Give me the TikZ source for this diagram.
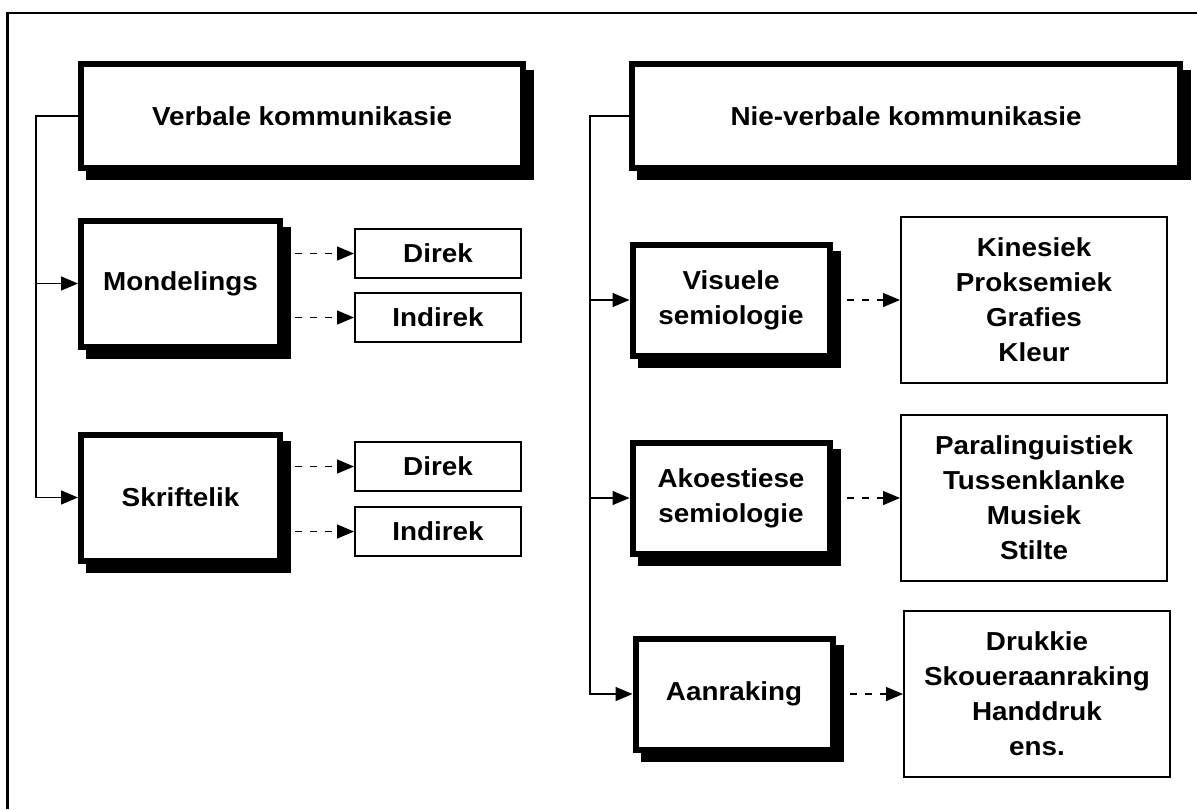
\documentclass[tikz,border=0pt]{standalone}
\usepackage{fontspec}
\setmainfont{Liberation Sans}[FakeStretch=1.07]
\usetikzlibrary{arrows.meta,shadows}
\tikzset{
	every node/.style = {font=\fontsize{13}{17.5}\selectfont\bfseries, inner sep=0, align=center},
	mainbox/.style = {draw, rectangle, line width=3pt, fill=white,
		drop shadow={shadow xshift=4pt, shadow yshift=-4.5pt, opacity=1, fill=black, draw=black, line width=3pt}},
	subbox/.style = {draw, rectangle, line width=0.8pt, fill=white, minimum width=83.2pt, minimum height=24.7pt},
	listbox/.style = {draw, rectangle, line width=1pt, fill=white, minimum width=133pt, minimum height=83pt},
	trunk/.style = {line width=0.7pt},
	dotarrow/.style = {->, line width=0.6pt, dash pattern=on 3.5pt off 4pt},
	>={Triangle[length=8.5pt,width=7pt]}
}

\begin{document}
\begin{tikzpicture}[x=0.5pt, y=-0.5pt]
		\useasboundingbox (0,0) rectangle (1197,809);
		\draw[line width=1.5pt] (7,809) -- (7,13);
		\draw[line width=1pt] (6,13) -- (1197,13);
		
		\node[mainbox, minimum width=221pt, minimum height=52pt] (verb) at (302,116) {Verbale kommunikasie};
		\node[mainbox, minimum width=99.5pt, minimum height=63pt] (mond) at (180.5,283.5) {Mondelings};
		\node[mainbox, minimum width=99.5pt, minimum height=63pt] (skrif) at (180.5,497.5) {Skriftelik};
		
		\node[subbox] (direk1) at (438,253.5) {Direk};
		\node[subbox] (indirek1) at (438,317.5) {Indirek};
		\node[subbox] (direk2) at (438,466.5) {Direk};
		\node[subbox] (indirek2) at (438,531.5) {Indirek};
		
		\node[mainbox, minimum width=274pt, minimum height=52pt] (nie) at (906,116) {Nie-verbale kommunikasie};
		\node[mainbox, minimum width=98.5pt, minimum height=55.5pt] (vis) at (731,300) {Visuele\\semiologie};
		\node[mainbox, minimum width=98.5pt, minimum height=55.5pt] (ako) at (731,498) {Akoestiese\\semiologie};
		\node[mainbox, minimum width=98.5pt, minimum height=55.5pt] (aan) at (734,694) {Aanraking};
		
		\node[listbox] (kin) at (1034,300) {Kinesiek\\Proksemiek\\Grafies\\Kleur};
		\node[listbox] (para) at (1034,498) {Paralinguistiek\\Tussenklanke\\Musiek\\Stilte};
		\node[listbox] (druk) at (1037,694) {Drukkie\\Skoueraanraking\\Handdruk\\ens.};
		
		\coordinate (vtrunk) at (36,116);
		\draw[trunk, ->] (verb.west) -- (vtrunk) |- (skrif.west);
		\draw[trunk, ->] (vtrunk |- mond.west) -- (mond.west);
		
		\coordinate (ntrunk) at (590,116);
		\draw[trunk, ->] (nie.west) -- (ntrunk) |- (aan.west);
		\draw[trunk, ->] (ntrunk |- vis.west) -- (vis.west);
		\draw[trunk, ->] (ntrunk |- ako.west) -- (ako.west);
		
		\draw[dotarrow, shorten <=6pt] (direk1.west -| mond.east) -- (direk1.west);
		\draw[dotarrow, shorten <=6pt] (indirek1.west -| mond.east) -- (indirek1.west);
		\draw[dotarrow, shorten <=6pt] (direk2.west -| skrif.east) -- (direk2.west);
		\draw[dotarrow, shorten <=6pt] (indirek2.west -| skrif.east) -- (indirek2.west);
		
		\draw[dotarrow, shorten <=7pt] (vis.east) -- (kin.west);
		\draw[dotarrow, shorten <=7pt] (ako.east) -- (para.west);
		\draw[dotarrow, shorten <=7pt] (aan.east) -- (druk.west);
\end{tikzpicture}
\end{document}
